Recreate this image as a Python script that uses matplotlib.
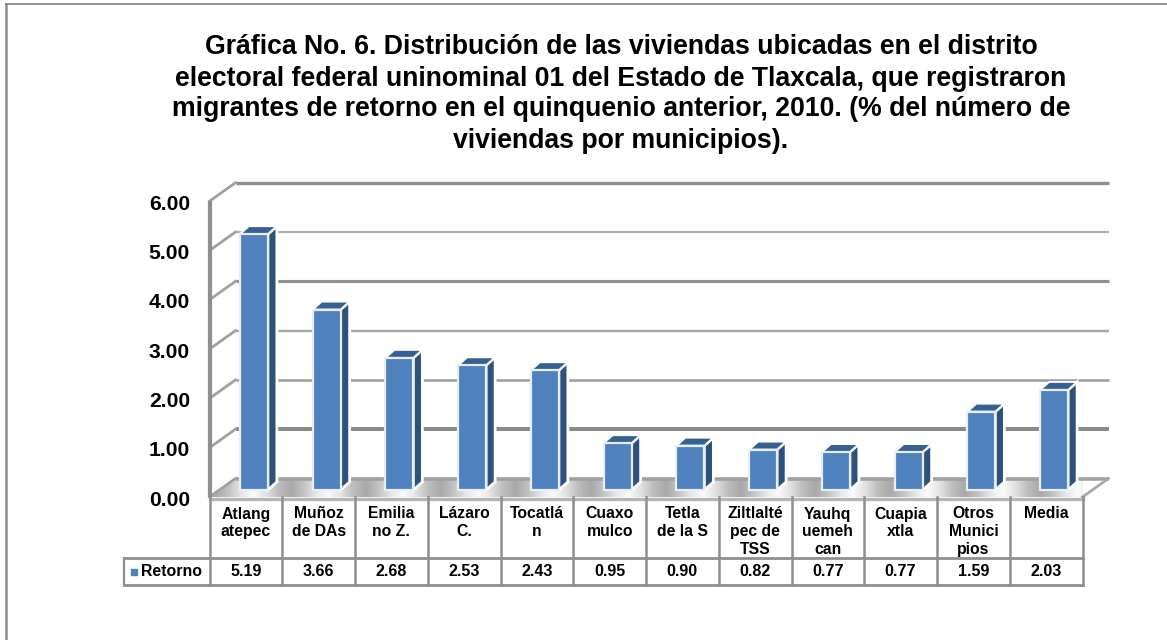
import matplotlib
matplotlib.use('Agg')
import matplotlib.pyplot as plt
from matplotlib.lines import Line2D
from matplotlib.patches import Polygon
import numpy as np

plt.rcParams['font.family'] = ['Liberation Sans', 'DejaVu Sans']
plt.rcParams['font.weight'] = 'bold'

titulo = ('Gráfica No. 6. Distribución de las viviendas ubicadas en el distrito\n'
          'electoral federal uninominal 01 del Estado de Tlaxcala, que registraron\n'
          'migrantes de retorno en el quinquenio anterior, 2010. (% del número de\n'
          'viviendas por municipios).')
municipios = ['Atlang\natepec', 'Muñoz\nde DAs', 'Emilia\nno Z.', 'Lázaro\nC.', 'Tocatlá\nn',
              'Cuaxo\nmulco', 'Tetla\nde la S', 'Ziltlalté\npec de\nTSS', 'Yauhq\nuemeh\ncan',
              'Cuapia\nxtla', 'Otros\nMunici\npios', 'Media']
retorno = [5.19, 3.66, 2.68, 2.53, 2.43, 0.95, 0.90, 0.82, 0.77, 0.77, 1.59, 2.03]
serie = 'Retorno'
marcas_y = [0, 1, 2, 3, 4, 5, 6]

W, H = 1167, 640
px_x = 72.75  # pixeles por categoria
px_y = 49.3   # pixeles por unidad
gris = '#8f8f8f'
azul = '#4f81bd'
azul_lado = '#2f527c'
azul_top = '#376092'

fig = plt.figure(figsize=(W / 100, H / 100), dpi=100)
fig.patch.set_facecolor('white')

# marco exterior
fig.add_artist(Line2D([6 / W, 6 / W], [0, 1 - 4 / H], color=gris, lw=1.8))
fig.add_artist(Line2D([6 / W, 1], [1 - 4 / H, 1 - 4 / H], color='#808080', lw=1.2))

fig.text(621 / W, 1 - 94 / H, titulo, ha='center', va='center', fontsize=19.2,
         fontweight='bold', linespacing=1.25, color='black')

ax = fig.add_axes([209.5 / W, 1 - 497 / H, 12 * px_x / W, 6 * px_y / H])
ax.set_xlim(0, 12)
ax.set_ylim(0, 6)
ax.axis('off')

# profundidad del efecto 3D
prof_x = 26 / px_x
prof_y = 18.5 / px_y
bar_x = 8 / px_x
bar_y = 7 / px_y
bar_w = 28 / px_x
lado_x = 9 / px_x
lado_y = 8 / px_y

# piso con degradado plateado
banda = np.array([0.66, 0.76, 0.90, 0.98, 0.88, 0.74])
degradado = np.tile(banda, 12)[None, :]
piso = Polygon([(0, 0), (12, 0), (12 + prof_x, prof_y), (prof_x, prof_y)], closed=True,
               transform=ax.transData, facecolor='none', edgecolor='none')
ax.add_patch(piso)
img = ax.imshow(degradado, cmap='gray', vmin=0, vmax=1, aspect='auto',
                extent=[0, 12 + prof_x, 0, prof_y], zorder=1, interpolation='bilinear')
img.set_clip_path(piso)
ax.set_xlim(0, 12)
ax.set_ylim(0, 6)

# rejilla: pared del fondo y pared izquierda
grosor = [3.2, 3.6, 2.4, 2.2, 2.8, 2.0, 3.0]
tonos = ['#a0a0a0', '#8a8a8a', '#a0a0a0', '#a8a8a8', '#909090', '#b0b0b0', '#8f8f8f']
for v, lw, c in zip(marcas_y, grosor, tonos):
    ax.plot([prof_x, 12 + prof_x], [v + prof_y, v + prof_y], color=c, lw=lw * 0.8,
            solid_capstyle='butt', clip_on=False, zorder=2)
    ax.plot([0, prof_x], [v, v + prof_y], color='#a0a0a0', lw=2, clip_on=False, zorder=2)
    ax.text(-19.5 / px_x, v - 3 / px_y, '%.2f' % v, ha='right', va='center', fontsize=15.2,
            fontweight='bold')
ax.plot([0, 0], [0, 6], color=gris, lw=3, clip_on=False, zorder=3, solid_capstyle='butt')
ax.plot([12, 12 + prof_x], [0, prof_y], color='#a8a8a8', lw=2, clip_on=False, zorder=2)

# barras
x0 = np.arange(12) + 0.5 + bar_x
for x, v in zip(x0, retorno):
    izq, der = x - bar_w / 2, x + bar_w / 2
    tope = bar_y + v
    ax.fill([der, der + lado_x, der + lado_x, der],
            [bar_y, bar_y + lado_y, tope + lado_y, tope],
            facecolor=azul_lado, edgecolor='white', linewidth=2, clip_on=False, zorder=4)
    ax.fill([izq, der, der + lado_x, izq + lado_x],
            [tope, tope, tope + lado_y, tope + lado_y],
            facecolor=azul_top, edgecolor='white', linewidth=1.4, clip_on=False, zorder=4)
ax.bar(x0, retorno, width=bar_w, bottom=bar_y, color=azul, edgecolor='#e8eef6', linewidth=1.6,
       clip_on=False, zorder=5)

# tabla de datos
y_sep = -61 / px_y
y_fin = -88 / px_y
x_ley = -85.5 / px_x
borde = dict(color=gris, clip_on=False, zorder=3, solid_capstyle='projecting')
ax.plot([0, 12], [-1.5 / px_y, -1.5 / px_y], color='#b5b5b5', lw=2.4, clip_on=False, zorder=3)
ax.plot([x_ley, 12], [y_sep, y_sep], lw=2, **borde)
ax.plot([x_ley, 12], [y_fin, y_fin], lw=2, **borde)
ax.plot([x_ley, x_ley], [y_sep, y_fin], lw=1.6, **borde)
for i in range(13):
    ax.plot([i, i], [0, y_fin], lw=1.8, **borde)
y_val = (y_sep + y_fin) / 2 - 0.5 / px_y
for i, (m, v) in enumerate(zip(municipios, retorno)):
    ax.text(i + 0.5, -9.5 / px_y, m, ha='center', va='top', fontsize=11.3, fontweight='bold',
            linespacing=1.22, clip_on=False)
    ax.text(i + 0.5, y_val, '%.2f' % v, ha='center', va='center', fontsize=11.6,
            fontweight='bold', clip_on=False)
ax.plot([x_ley + 9.5 / px_x], [y_val], marker='s', ms=4.4, color=azul, ls='none', clip_on=False)
ax.text(x_ley + 17 / px_x, y_val, serie, ha='left', va='center', fontsize=11.4,
        fontweight='bold', clip_on=False)

fig.savefig('out.png', dpi=100)
plt.close(fig)
